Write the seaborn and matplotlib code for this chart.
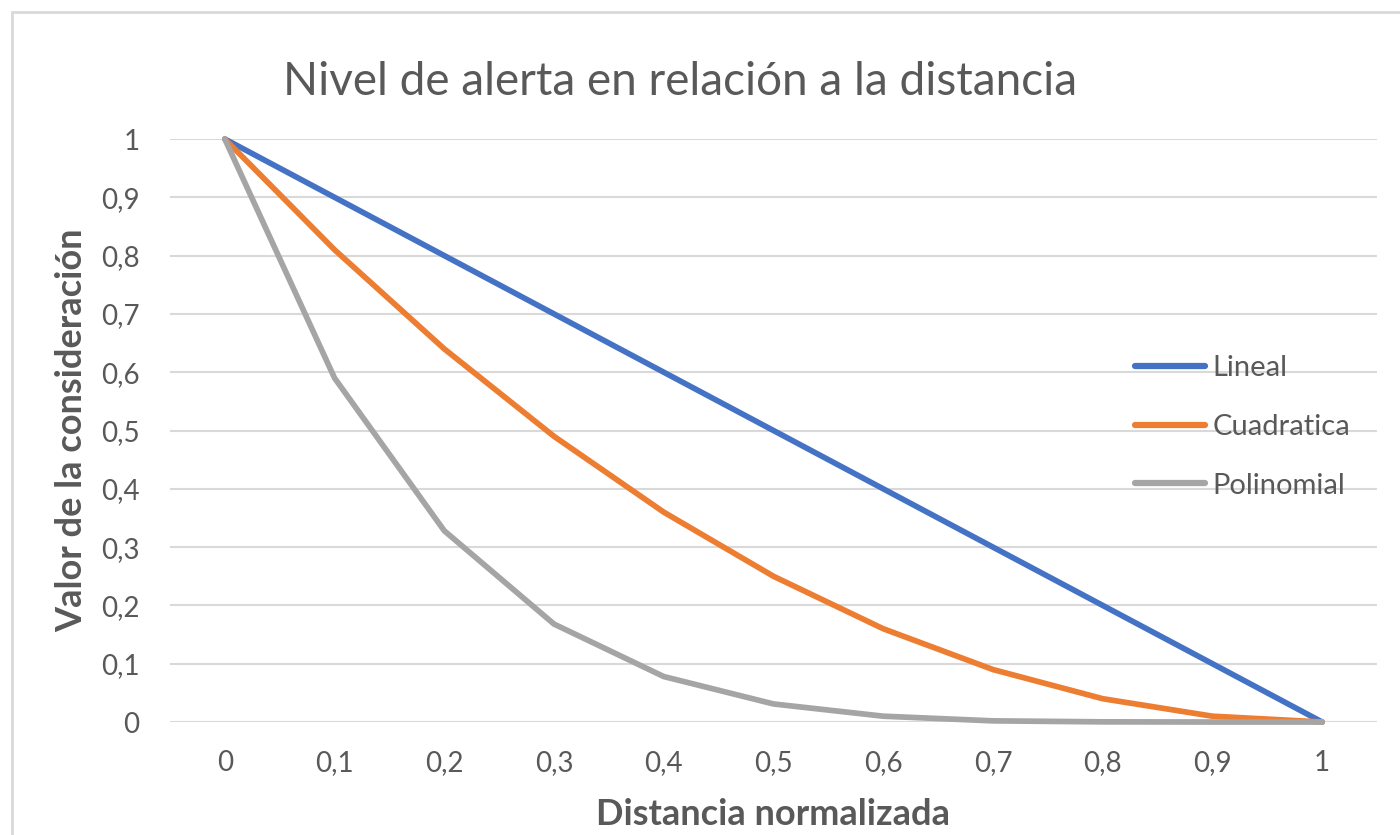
import matplotlib
matplotlib.use("Agg")
import matplotlib.pyplot as plt
import matplotlib.patches as mpatches
import seaborn as sns
import pandas as pd

# Normalised distance (category axis) and the three alert curves
distancia = [0.0, 0.1, 0.2, 0.3, 0.4, 0.5, 0.6, 0.7, 0.8, 0.9, 1.0]
etiquetas_x = ["0", "0,1", "0,2", "0,3", "0,4", "0,5", "0,6", "0,7", "0,8", "0,9", "1"]
lineal = [1.0, 0.9, 0.8, 0.7, 0.6, 0.5, 0.4, 0.3, 0.2, 0.1, 0.0]
cuadratica = [1.0, 0.81, 0.64, 0.49, 0.36, 0.25, 0.16, 0.09, 0.04, 0.01, 0.0]
polinomial = [1.0, 0.59, 0.328, 0.168, 0.078, 0.031, 0.010, 0.002, 0.0003, 0.0, 0.0]
series = ["Lineal", "Cuadratica", "Polinomial"]
valores_y = [0.0, 0.1, 0.2, 0.3, 0.4, 0.5, 0.6, 0.7, 0.8, 0.9, 1.0]
etiquetas_y = ["0", "0,1", "0,2", "0,3", "0,4", "0,5", "0,6", "0,7", "0,8", "0,9", "1"]

colores = {"Lineal": "#4472C4", "Cuadratica": "#ED7D31", "Polinomial": "#A5A5A5"}
TEXTO = "#595959"

sns.set_theme(style="white")
plt.rcParams["font.family"] = ["Lato", "DejaVu Sans"]

df = pd.DataFrame({
    "Distancia": distancia * 3,
    "Valor": lineal + cuadratica + polinomial,
    "Serie": [s for s in series for _ in distancia],
})

fig = plt.figure(figsize=(14, 8.35), dpi=100)
ax = fig.add_axes([0.1214, 0.1353, 0.8622, 0.6982])

sns.lineplot(data=df, x="Distancia", y="Valor", hue="Serie", hue_order=series,
             palette=colores, linewidth=4.1, ax=ax, clip_on=False,
             solid_capstyle="round", solid_joinstyle="round")

ax.set_xlim(-0.05, 1.05)
ax.set_ylim(0, 1)
ax.set_xticks(distancia)
ax.set_xticklabels(etiquetas_x)
ax.set_yticks(valores_y)
ax.set_yticklabels(etiquetas_y)
ax.tick_params(axis="both", length=0, labelsize=20, colors=TEXTO)
ax.tick_params(axis="y", pad=22)
ax.tick_params(axis="x", pad=20)
ax.yaxis.grid(True, color="#D9D9D9", linewidth=1.5)
ax.xaxis.grid(False)
for s in ax.spines.values():
    s.set_visible(False)

ax.set_xlabel("Distancia normalizada", fontsize=26, fontweight="bold", color=TEXTO, labelpad=16)
ax.set_ylabel("Valor de la consideración", fontsize=26, fontweight="bold", color=TEXTO, labelpad=9)

fig.text(0.486, 0.902, "Nivel de alerta en relación a la distancia", fontsize=33,
         color=TEXTO, ha="center", va="center")

leg = ax.legend(loc="center left", bbox_to_anchor=(0.7995, 0.506), frameon=False,
                fontsize=21, handlelength=2.4, handletextpad=0.25, labelspacing=1.12,
                borderpad=0, borderaxespad=0)
for t in leg.get_texts():
    t.set_color(TEXTO)
for ln in leg.get_lines():
    ln.set_linewidth(4.5)
    ln.set_solid_capstyle("round")

# Outer chart frame
fig.patches.append(mpatches.Rectangle((12 / 1400, -0.1), 1.2, 1 - 12 / 835 + 0.1,
                                      transform=fig.transFigure, fill=False,
                                      edgecolor="#D9D9D9", linewidth=2))

fig.savefig("out.png", dpi=100)
